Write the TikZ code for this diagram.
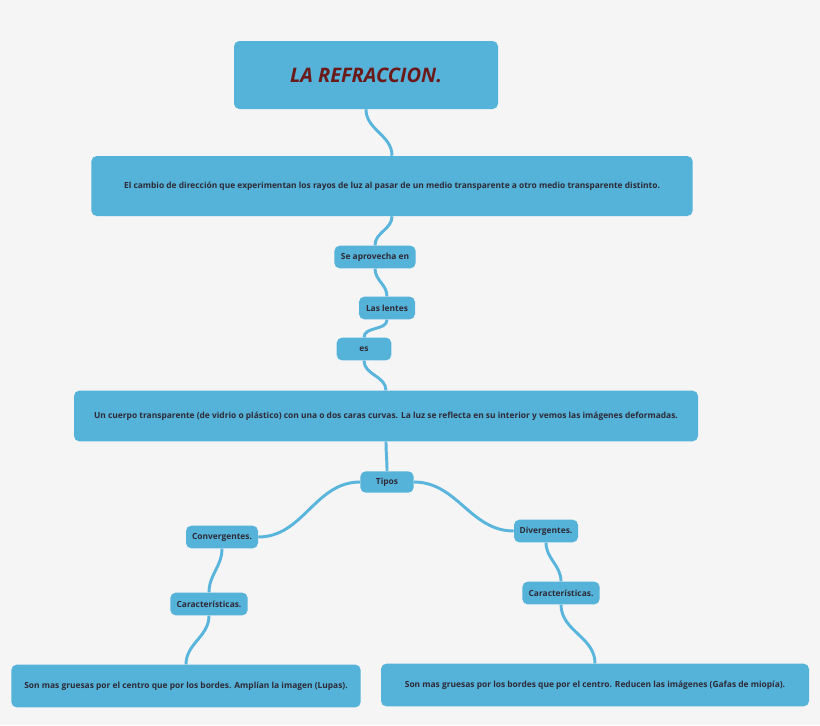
\documentclass[tikz,border=0pt]{standalone}
\usepackage{fontspec}
\setmainfont{Open Sans}
\usetikzlibrary{positioning}
\definecolor{boxblue}{HTML}{55B2D9}
\definecolor{linkblue}{HTML}{5AB5DC}
\definecolor{inkdark}{HTML}{2E2A36}
\definecolor{titlered}{HTML}{6B1A1A}
\definecolor{paper}{HTML}{F5F5F5}
\tikzset{
  box/.style={fill=boxblue, rounded corners=4pt, inner sep=0pt, text=inkdark,
    font=\fontsize{6.3}{7}\selectfont\bfseries},
  link/.style={draw=linkblue, line width=2.2pt}
}
\begin{document}
\begin{tikzpicture}[x=0.75pt,y=-0.75pt]

        \fill[paper] (0,0) rectangle (820,725);
        \useasboundingbox (0,0) rectangle (820,725);

        \node[box, minimum width=198pt, minimum height=51pt, font=\fontsize{15}{18}\selectfont\bfseries\itshape, text=titlered] (title) at (366,75) {LA REFRACCION.};
        \node[box, minimum width=451pt, minimum height=45pt] (def) at (392,186) {El cambio de dirección que experimentan los rayos de luz al pasar de un medio transparente a otro medio transparente distinto.};
        \node[box, minimum width=61pt, minimum height=17pt] (aprov) at (375,257) {Se aprovecha en};
        \node[box, minimum width=42pt, minimum height=17pt] (lentes) at (387,308) {Las lentes};
        \node[box, minimum width=41pt, minimum height=17pt] (es) at (364,349) {es};
        \node[box, minimum width=468pt, minimum height=38pt] (cuerpo) at (386,416) {Un cuerpo transparente (de vidrio o plástico) con una o dos caras curvas. La luz se reflecta en su interior y vemos las imágenes deformadas.};
        \node[box, minimum width=40pt, minimum height=16pt] (tipos) at (387,482) {Tipos};
        \node[box, minimum width=54pt, minimum height=17pt] (conv) at (222,537) {Convergentes.};
        \node[box, minimum width=48pt, minimum height=17pt] (div) at (546,531) {Divergentes.};
        \node[box, minimum width=58pt, minimum height=17pt] (caracl) at (209,604) {Características.};
        \node[box, minimum width=58pt, minimum height=17pt] (caracr) at (561,593) {Características.};
        \node[box, minimum width=262pt, minimum height=32pt] (convtxt) at (186,686) {Son mas gruesas por el centro que por los bordes. Amplían la imagen (Lupas).};
        \node[box, minimum width=321pt, minimum height=32pt] (divtxt) at (595,685) {Son mas gruesas por los bordes que por el centro. Reducen las imágenes (Gafas de miopía).};

        % vertical links
        \begin{scope}[on background layer/.style={}]
        \draw[link] (title.south) to[out=-90,in=90] (def.north);
        \draw[link] (def.south) to[out=-90,in=90] (aprov.north);
        \draw[link] (aprov.south) to[out=-90,in=90] (lentes.north);
        \draw[link] (lentes.south) to[out=-90,in=90] (es.north);
        \draw[link] (es.south) to[out=-90,in=90] (cuerpo.north);
        \draw[link] (cuerpo.south) to[out=-90,in=90] (tipos.north);
        \draw[link] (tipos.west) to[out=180,in=0] (conv.east);
        \draw[link] (tipos.east) to[out=0,in=180] (div.west);
        \draw[link] (conv.south) to[out=-90,in=90] (caracl.north);
        \draw[link] (div.south) to[out=-90,in=90] (caracr.north);
        \draw[link] (caracl.south) to[out=-90,in=90] (convtxt.north);
        \draw[link] (caracr.south) to[out=-90,in=90] (divtxt.north);
        \end{scope}

\end{tikzpicture}
\end{document}
